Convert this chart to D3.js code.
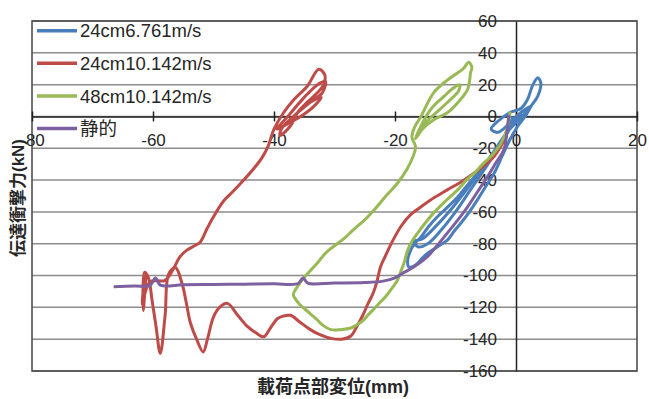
<!DOCTYPE html>
<html>
<head>
<meta charset="utf-8">
<script src="https://cdn.jsdelivr.net/npm/d3@7"></script>
<style>
  body { margin: 0; background: #fff; }
  text { font-family: "Liberation Sans", Arial, "Noto Sans CJK JP", sans-serif; }
</style>
</head>
<body>
<svg id="chart"></svg>
<script>
const W = 649, H = 399;

// tick values
const xTicks = [-80, -60, -40, -20, 0, 20];
const yTicks = [-160, -140, -120, -100, -80, -60, -40, -20, 0, 20, 40, 60];

// series names (legend order)
const names = ["24cm6.761m/s", "24cm10.142m/s", "48cm10.142m/s", "静的"];
const colors = ["#4a7ebb", "#be4b48", "#98b954", "#7d60a0"];

// [displacement mm, force kN]
const blue = [[-0.5, 0], [-1.5, -9], [-3, -20.8], [-4.6, -28], [-6.3, -35.6], [-8, -43], [-9.6, -50.5],
  [-11.3, -57], [-13, -63], [-14.4, -69], [-15.7, -75.7], [-16.8, -80], [-17.4, -84], [-17.9, -90],
  [-17.7, -94.6], [-16.5, -93], [-15.5, -89], [-14.6, -86], [-13, -82], [-11.3, -77.6], [-10.2, -72],
  [-9.1, -67], [-7.7, -60], [-6.3, -52], [-5, -44], [-3.6, -35.6], [-2.3, -25], [-1, -14.5], [0.3, -6],
  [1.5, 0], [2.5, 6.5], [3.6, 12.8], [4.1, 21], [3.6, 24.4], [2.8, 20], [1.9, 10.7], [0.8, 5], [-1, 2.5],
  [-3, -3], [-4.1, -8], [-3, -10], [-1, -4], [0.8, 2.5], [2.5, 6.5], [1, 0], [-1.5, -10], [-4, -24],
  [-7, -40], [-10, -55], [-13, -68], [-15.5, -77], [-16.8, -78.5], [-16.2, -82], [-14.6, -80], [-12.5, -72],
  [-10, -60], [-7.5, -46], [-5, -32], [-2.5, -17], [-0.5, -5], [1, 2]];

const red = [[-1.5, -12], [-3.6, -25], [-5.3, -31], [-6.9, -35.6], [-9, -41], [-11.3, -46], [-13.5, -51],
  [-15.7, -56.8], [-17.5, -62], [-19, -69], [-20.5, -79], [-21.5, -87], [-22.4, -94.6], [-23, -104],
  [-23.6, -111], [-24.5, -118], [-25.2, -124], [-26.3, -132], [-27.3, -138], [-28.8, -140], [-30.6, -139.5],
  [-32.5, -137], [-34, -134], [-35.8, -129], [-37.3, -125], [-38.5, -125.5], [-39.4, -127], [-40.6, -133],
  [-41.7, -138.5], [-43, -136], [-44.4, -132], [-46, -125], [-47.7, -117.5], [-49, -120], [-50, -126],
  [-51, -140], [-51.7, -148], [-52.8, -140], [-53.8, -130], [-54.5, -117], [-55.2, -105], [-56.3, -95],
  [-57.4, -99], [-58, -125], [-58.8, -149], [-59.5, -132], [-60.1, -117], [-60.8, -101], [-61.4, -98],
  [-61.6, -122], [-61.2, -100], [-61.8, -118], [-60.5, -104], [-58, -103], [-56.8, -97], [-55.5, -88],
  [-54.4, -84], [-53, -81], [-52.2, -79], [-51, -70], [-50, -63], [-48.3, -53], [-47, -48], [-45.5, -42],
  [-43.4, -33], [-42, -26], [-41, -19], [-40, -8], [-38.4, 2.5], [-36.7, 10.7], [-34.5, 19], [-32.6, 29.7],
  [-31.6, 26], [-31.8, 20], [-32.8, 15], [-34.5, 9], [-36, 3], [-37.3, -6], [-39, -12], [-38.8, -8],
  [-36.5, 1], [-34, 9], [-32, 15], [-31.5, 22], [-32.8, 20], [-35, 12], [-37.5, 1], [-39.5, -8],
  [-37.5, -4], [-35.6, 0], [-33.5, 6], [-32.2, 12], [-33.5, 10], [-36, 3]];

const green = [[-1, 3], [-1.5, -8], [-2.5, -17], [-4.1, -25], [-5.5, -30], [-6.9, -35.6], [-8.2, -40],
  [-9.6, -46], [-11.6, -53], [-13.6, -60.6], [-15, -67], [-16.2, -73], [-17.1, -78], [-17.9, -84], [-18.5, -92],
  [-19, -97], [-19.6, -103], [-20.5, -108], [-21.5, -113], [-22.5, -117], [-23.5, -121], [-24.5, -125],
  [-25.2, -128], [-26.3, -131], [-27.3, -133], [-29, -134], [-30.6, -134], [-32, -131], [-32.8, -128],
  [-34.3, -123], [-35.9, -117.5], [-36.8, -112], [-36.3, -108], [-35.1, -101.6], [-34, -97], [-32.8, -92],
  [-31.5, -86], [-30.6, -83], [-28.5, -77], [-26.8, -71], [-25, -65], [-23.5, -59], [-21.5, -50],
  [-19.6, -42], [-18, -33], [-17, -25], [-16.6, -19], [-17.2, -13], [-16.8, -7], [-15.7, 0], [-13.6, 15],
  [-11.3, 23], [-8.8, 29.7], [-7.8, 34], [-7.3, 31], [-7.5, 27.6], [-8, 17], [-9.6, 8.8], [-11.3, 2.5],
  [-13.6, -2], [-15.5, -8], [-16.6, -14], [-16.2, -10], [-14.1, 4.4], [-11.9, 12.6], [-10.3, 18], [-9.3, 20],
  [-9.5, 16], [-11, 10], [-13, 3], [-15, -4], [-16.2, -12]];

const purple = [[-66.5, -107], [-63, -106.6], [-60.5, -106.2], [-59.6, -101.5], [-58.8, -106], [-55, -105.8],
  [-50, -105.6], [-45, -105.4], [-40, -105.2], [-36, -105], [-35.2, -101.5], [-34.4, -104.8], [-30, -104.7],
  [-25, -104.4], [-22, -103.5], [-20, -101.5], [-18.5, -98], [-16.9, -94.6], [-14.6, -88], [-13, -81],
  [-11.3, -73], [-9.6, -65], [-8, -56.8], [-6.3, -47], [-4.7, -37.8], [-3.3, -29], [-2, -20.8], [-1.5, -10],
  [-1.2, 1]];

const series = [blue, red, green, purple];

const svg = d3.select("#chart").attr("width", W).attr("height", H);

const x = d3.scaleLinear().domain([-80, 20]).range([32, 637]);
const y = d3.scaleLinear().domain([-160, 60]).range([371, 21]);

// gridlines
svg.append("g").selectAll("line").data(yTicks).join("line")
  .attr("x1", x(-80)).attr("x2", x(20))
  .attr("y1", d => y(d)).attr("y2", d => y(d))
  .attr("stroke", "#8c8c8c").attr("stroke-width", 1.5);

// plot frame
svg.append("rect")
  .attr("x", x(-80)).attr("y", y(60))
  .attr("width", x(20) - x(-80)).attr("height", y(-160) - y(60))
  .attr("fill", "none").attr("stroke", "#444").attr("stroke-width", 1.5);

// X axis through y = 0
const gx = svg.append("g")
  .attr("transform", "translate(0," + y(0) + ")")
  .call(d3.axisBottom(x).tickValues(xTicks).tickSize(5).tickSizeOuter(0).tickPadding(12).tickFormat(d => String(d)));
gx.select(".domain").attr("stroke", "#222").attr("stroke-width", 1.5);
gx.selectAll(".tick line").attr("y1", -5).attr("stroke", "#222").attr("stroke-width", 1.5);
gx.selectAll(".tick text").style("font-size", "17px").attr("fill", "#262626");

// Y axis through x = 0
const gy = svg.append("g")
  .attr("transform", "translate(" + x(0) + ",0)")
  .call(d3.axisLeft(y).tickValues(yTicks).tickSize(0).tickSizeOuter(0).tickPadding(19).tickFormat(d => String(d)));
gy.select(".domain").attr("stroke", "#222").attr("stroke-width", 1.5);
gy.selectAll(".tick text").style("font-size", "17px").attr("fill", "#262626");

// series lines
const line = d3.line().x(d => x(d[0])).y(d => y(d[1])).curve(d3.curveCatmullRom.alpha(0.5));
svg.append("g").selectAll("path").data(series).join("path")
  .attr("d", line)
  .attr("fill", "none")
  .attr("stroke", (d, i) => colors[i])
  .attr("stroke-width", 3)
  .attr("stroke-linejoin", "round");

// legend
const lg = svg.append("g").selectAll("g").data(names).join("g")
  .attr("transform", (d, i) => "translate(37," + (30.7 + i * 32.6) + ")");
lg.append("line").attr("x1", 0).attr("x2", 40)
  .attr("stroke", (d, i) => colors[i]).attr("stroke-width", 3.5);
lg.append("text").attr("x", 43).attr("dy", "0.36em")
  .style("font-size", "18.5px").attr("fill", "#262626")
  .text(d => d);

// axis titles
svg.append("text")
  .attr("transform", "translate(18,198) rotate(-90)")
  .attr("text-anchor", "middle").attr("dy", "0.35em")
  .style("font-size", "17px").style("font-weight", "bold").attr("fill", "#262626")
  .text("伝達衝撃力(kN)");

svg.append("text")
  .attr("x", 333).attr("y", 393)
  .attr("text-anchor", "middle")
  .style("font-size", "18px").style("font-weight", "bold").attr("fill", "#262626")
  .text("載荷点部変位(mm)");
</script>
</body>
</html>
